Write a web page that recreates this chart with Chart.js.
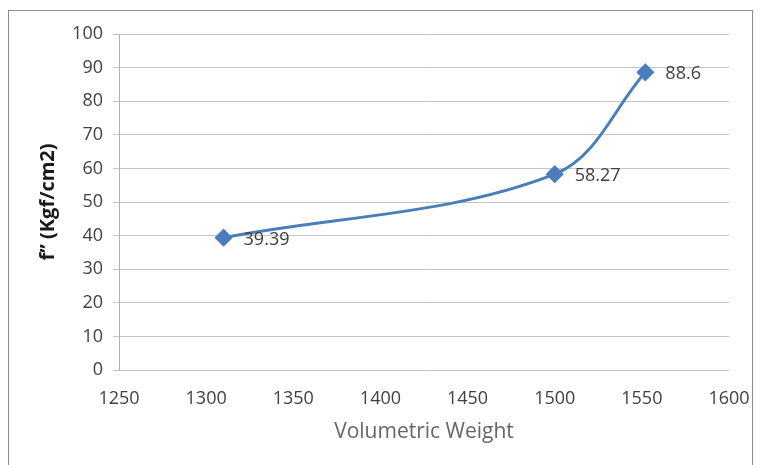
<!DOCTYPE html>
<html>
<head>
<meta charset="utf-8">
<script src="https://cdn.jsdelivr.net/npm/chart.js@4"></script>
<style>
  html, body { margin: 0; padding: 0; background: #fff; }
  #wrap { width: 762px; height: 465px; position: relative; }
</style>
</head>
<body>
<div id="wrap"><canvas id="chart" width="762" height="465"></canvas></div>
<script>
// values
const weights = [1310, 1500, 1552];
const strength = [39.39, 58.27, 88.6];
const pointLabels = ['39.39', '58.27', '88.6'];
const xTitle = 'Volumetric Weight';
const yTitle = 'f\u2019\u2019 (Kgf/cm2)';

const FONT = '"Open Sans", "Noto Sans", sans-serif';

// outer frame like the Excel chart border
const framePlugin = {
  id: 'frame',
  beforeDraw(chart) {
    const ctx = chart.ctx;
    ctx.save();
    ctx.strokeStyle = '#8c8c8c';
    ctx.lineWidth = 1;
    ctx.strokeRect(8.5, 10.5, 744, 470);
    ctx.restore();
  }
};

// value labels to the right of each point
const valueLabels = {
  id: 'valueLabels',
  afterDatasetsDraw(chart) {
    const ctx = chart.ctx;
    const meta = chart.getDatasetMeta(0);
    ctx.save();
    ctx.font = '18px ' + FONT;
    ctx.fillStyle = '#404040';
    ctx.textAlign = 'left';
    ctx.textBaseline = 'middle';
    meta.data.forEach((pt, i) => {
      ctx.fillText(pointLabels[i], pt.x + 20, pt.y + 2);
    });
    ctx.restore();
  }
};

new Chart(document.getElementById('chart'), {
  type: 'line',
  data: {
    datasets: [{
      data: weights.map((w, i) => ({ x: w, y: strength[i] })),
      borderColor: '#4a7ebb',
      backgroundColor: '#4a7ebb',
      borderWidth: 3,
      tension: 0.35,
      pointStyle: 'rectRot',
      pointRadius: 7,
      pointHoverRadius: 7,
      fill: false
    }]
  },
  options: {
    responsive: false,
    animation: false,
    layout: { padding: { left: 0, right: 33, top: 34, bottom: 0 } },
    plugins: { legend: { display: false }, tooltip: { enabled: false } },
    scales: {
      x: {
        type: 'linear',
        min: 1250,
        max: 1600,
        afterFit(scale) { scale.height = 95; },
        ticks: {
          stepSize: 50,
          padding: 10,
          color: '#404040',
          font: { family: FONT, size: 18 },
          callback: (v) => String(v)
        },
        grid: { display: false },
        border: { display: false },
        title: {
          display: true,
          text: xTitle,
          color: '#666666',
          font: { family: FONT, size: 21 },
          padding: { top: 0, bottom: 20 }
        }
      },
      y: {
        min: 0,
        max: 100,
        afterFit(scale) { scale.width = 119; },
        ticks: {
          stepSize: 10,
          padding: 10,
          color: '#404040',
          font: { family: FONT, size: 18 }
        },
        grid: { color: '#c4c4c4', lineWidth: 1, tickLength: 6 },
        border: { color: '#b0b0b0' },
        title: {
          display: true,
          text: yTitle,
          color: '#1a1a1a',
          font: { family: FONT, size: 20, weight: 'bold' },
          padding: { top: 36, bottom: 0 }
        }
      }
    }
  },
  plugins: [framePlugin, valueLabels]
});
</script>
</body>
</html>
